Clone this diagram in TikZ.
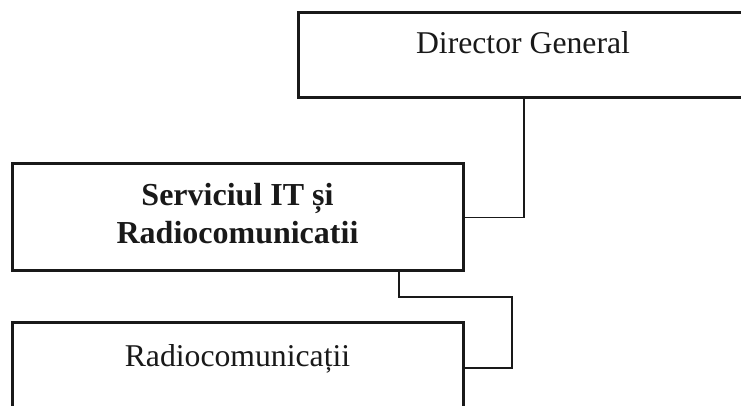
\documentclass[tikz,border=0pt]{standalone}
\usepackage{fontspec}
\setmainfont{Liberation Serif}
\begin{document}
\begin{tikzpicture}[x=0.5pt,y=-0.5pt,
  box/.style={draw=black!90,line width=1.5pt,rectangle,inner sep=0pt},
  conn/.style={draw=black!90,line width=0.7pt},
  lbl/.style={font=\fontsize{15.85}{19}\selectfont,inner sep=0pt,anchor=base,text=black!90},
  blbl/.style={lbl,font=\fontsize{16}{19}\selectfont\bfseries}]
\useasboundingbox (0,0) rectangle (741,406);
\fill[white] (0,0) rectangle (741,406);
\begin{scope}
\clip (0,0) rectangle (741,406);
\node[box,minimum width=226pt,minimum height=42.5pt] (dir) at (524,55.5) {};
\node[box,minimum width=225.5pt,minimum height=53.5pt] (serv) at (237.5,217.5) {};
\node[box,minimum width=225.5pt,minimum height=45pt] (radio) at (237.5,368) {};
\coordinate (bend) at (512,297);
\draw[conn] (serv.east) -| (dir.south);
\draw[conn] ([xshift=80.75pt]serv.south) |- (bend) |- (radio.east);
\end{scope}
\node[lbl] (dirt) at (523,54) {Director General};
\node[blbl] (s1) at (237.5,206) {Serviciul IT și};
\node[blbl] (s2) at (237.5,244) {Radiocomunicatii};
\node[lbl] (rt) at (237.5,367) {Radiocomunicații};
\end{tikzpicture}
\end{document}
